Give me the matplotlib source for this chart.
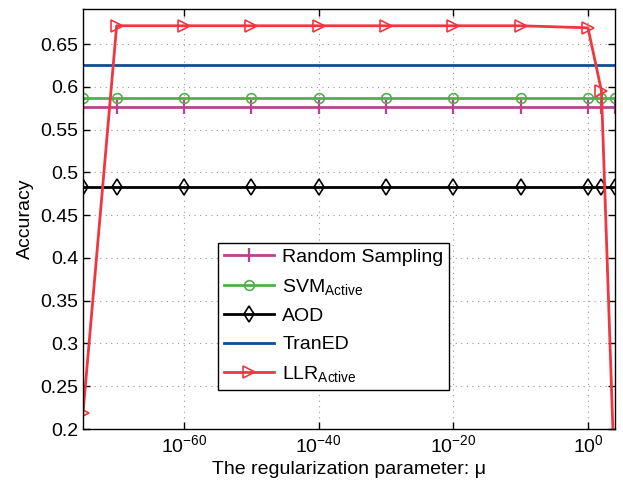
import matplotlib
matplotlib.use("Agg")
import matplotlib.pyplot as plt
import numpy as np

plt.rcParams['font.family'] = ['Liberation Sans', 'DejaVu Sans']
plt.rcParams['mathtext.fontset'] = 'custom'
plt.rcParams['mathtext.rm'] = 'Liberation Sans'
plt.rcParams['mathtext.it'] = 'Liberation Sans:italic'
plt.rcParams['mathtext.sf'] = 'Liberation Sans'

# data
exponents = [-75, -70, -60, -50, -40, -30, -20, -10, 0, 2, 4]
mu = [10.0 ** e for e in exponents]
random_sampling = [0.5767] * len(mu)
svm_active = [0.5873] * len(mu)
aod = [0.4833] * len(mu)
tran_ed = [0.6258] * len(mu)
llr_active = [0.2183, 0.6714, 0.6714, 0.6714, 0.6714, 0.6714, 0.6714, 0.6714, 0.669, 0.5954, 0.13]

c_rand = '#B4448F'
c_svm = '#50B04C'
c_aod = '#000000'
c_tran = '#0D4F94'
c_llr = '#F0373F'

fig = plt.figure(figsize=(6.23, 4.84), dpi=100)
ax = fig.add_axes([0.1332, 0.1136, 0.987 - 0.1332, 0.9814 - 0.1136])

lw = 2.0
ax.plot(mu, random_sampling, color=c_rand, lw=lw, marker='|', ms=10, mew=1.6, label='Random Sampling')
ax.plot(mu, svm_active, color=c_svm, lw=lw, marker='o', ms=7, mfc='none', mew=1.2, label=r'SVM$_{\rm Active}$')
ax.plot(mu, aod, color=c_aod, lw=lw, marker='d', ms=8, mfc='none', mew=1.2, label='AOD')
ax.plot(mu, tran_ed, color=c_tran, lw=lw, label='TranED')
ax.plot(mu, llr_active, color=c_llr, lw=lw, marker='>', ms=8, mfc='none', mew=1.2, label=r'LLR$_{\rm Active}$')

ax.set_xscale('log')
ax.set_xlim(1e-75, 1e4)
ax.set_ylim(0.2, 0.691)
ax.set_xticks([1e-60, 1e-40, 1e-20, 1e0])
ax.set_xticklabels([r'$10^{-60}$', r'$10^{-40}$', r'$10^{-20}$', r'$10^{0}$'])
ax.xaxis.set_minor_locator(matplotlib.ticker.NullLocator())
yt = [0.2, 0.25, 0.3, 0.35, 0.4, 0.45, 0.5, 0.55, 0.6, 0.65]
ax.set_yticks(yt)
ax.set_yticklabels(['0.2', '0.25', '0.3', '0.35', '0.4', '0.45', '0.5', '0.55', '0.6', '0.65'])
ax.tick_params(direction='in', top=True, right=True, labelsize=14, length=5, width=1)
ax.grid(True, linestyle=(0, (1, 4)), color='#999999', lw=0.8)
for s in ax.spines.values():
    s.set_linewidth(1)

ax.set_xlabel('The regularization parameter: μ', fontsize=14, labelpad=4)
ax.set_ylabel('Accuracy', fontsize=14)

leg = ax.legend(loc='lower left', bbox_to_anchor=(0.254, 0.093), fontsize=14,
                frameon=True, fancybox=False, edgecolor='black', framealpha=1,
                handlelength=2.6, borderpad=0.3, labelspacing=0.55, handletextpad=0.4,
                borderaxespad=0)
leg.get_frame().set_linewidth(1)

fig.savefig('out.png', dpi=100)
